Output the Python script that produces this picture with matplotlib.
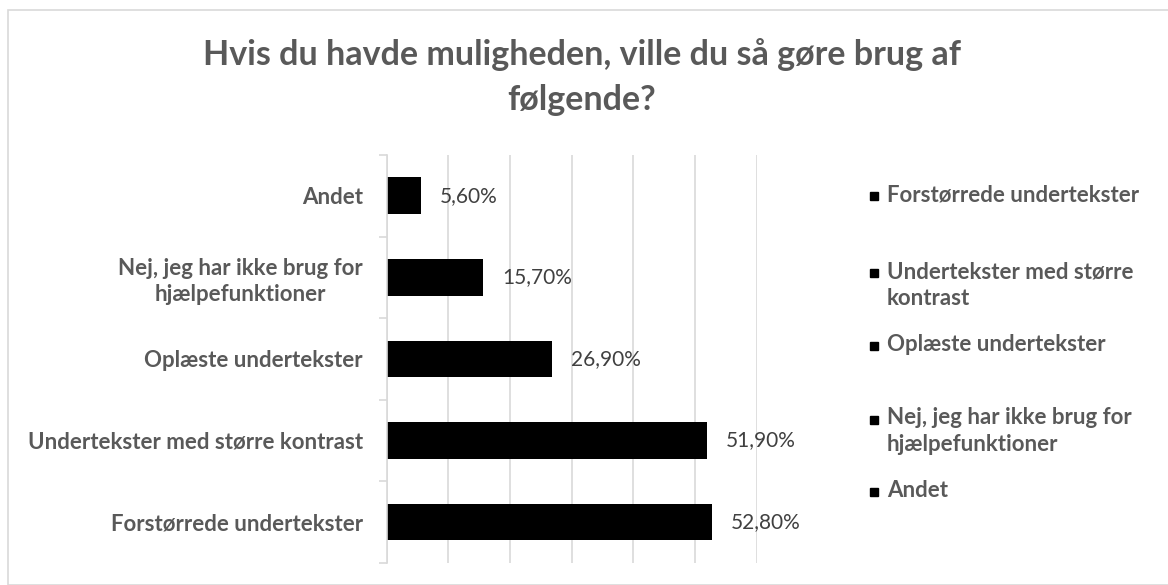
import matplotlib.pyplot as plt
import numpy as np
from matplotlib.patches import Rectangle

plt.rcParams["font.family"] = ["Lato", "DejaVu Sans"]

TITLE = "Hvis du havde muligheden, ville du så gøre brug af\nfølgende?"
categories = [
    "Forstørrede undertekster",
    "Undertekster med større kontrast",
    "Oplæste undertekster",
    "Nej, jeg har ikke brug for\nhjælpefunktioner",
    "Andet",
]
values = [52.8, 51.9, 26.9, 15.7, 5.6]
value_labels = ["52,80%", "51,90%", "26,90%", "15,70%", "5,60%"]
legend_labels = [
    "Forstørrede undertekster",
    "Undertekster med større\nkontrast",
    "Oplæste undertekster",
    "Nej, jeg har ikke brug for\nhjælpefunktioner",
    "Andet",
]

TEXT_GRAY = "#595959"
LINE_GRAY = "#D9D9D9"

W, H = 1168, 585
fig = plt.figure(figsize=(W / 100, H / 100), dpi=100)

# chart frame (runs off the right/bottom edge like the source)
fig.patches.append(Rectangle((7.5 / W, 0), 2, 1 - 10 / H, transform=fig.transFigure,
                             fill=False, edgecolor=LINE_GRAY, linewidth=1.2))

ax = fig.add_axes([386.5 / W, 1 - 562.7 / H, (756.7 - 386.5) / W, (562.7 - 155) / H])

y = np.arange(len(categories))
ax.barh(y, values, height=0.45, color="black", zorder=3)
for yi, v, lab in zip(y, values, value_labels):
    ax.annotate(lab, (v, yi), xytext=(13.5, 0), textcoords="offset points",
                va="center", ha="left", fontsize=15, color="#404040")

ax.set_xlim(0, 60)
ax.set_ylim(-0.5, len(categories) - 0.5)
ax.set_xticks(np.arange(0, 61, 10))
ax.xaxis.grid(True, color=LINE_GRAY, linewidth=1.2, zorder=0)
ax.tick_params(axis="x", length=0, labelbottom=False)

ax.set_yticks(y)
ax.set_yticklabels(categories, fontsize=16, fontweight="bold", color=TEXT_GRAY,
                   multialignment="center", linespacing=1.3)
ax.set_yticks(np.arange(-0.5, len(categories), 1), minor=True)
ax.tick_params(axis="y", which="major", length=0, pad=17)
ax.tick_params(axis="y", which="minor", length=6, color=LINE_GRAY, width=1.2)

for side in ("top", "right", "bottom"):
    ax.spines[side].set_visible(False)
ax.spines["left"].set_color(LINE_GRAY)
ax.spines["left"].set_linewidth(1.2)
ax.spines["left"].set_zorder(4)

# baseline of the last title line
fig.text(582 / W, 1 - 110 / H, TITLE, ha="center", va="baseline", fontsize=24.5,
         fontweight="bold", color=TEXT_GRAY, linespacing=1.5)

# legend: text placed by its last line, marker beside the first line
legend_text_baselines = [201, 305, 351, 451, 497]
legend_marker_baselines = [201, 278, 351, 425, 497]
for lab, tb, mb in zip(legend_labels, legend_text_baselines, legend_marker_baselines):
    fig.patches.append(Rectangle((870 / W, 1 - (mb - 1) / H), 8 / W, 8 / H,
                                 transform=fig.transFigure, color="black"))
    fig.text(887 / W, 1 - tb / H, lab, ha="left", va="baseline", fontsize=16,
             fontweight="bold", color=TEXT_GRAY, linespacing=1.35)

fig.savefig("out.png", dpi=100)
